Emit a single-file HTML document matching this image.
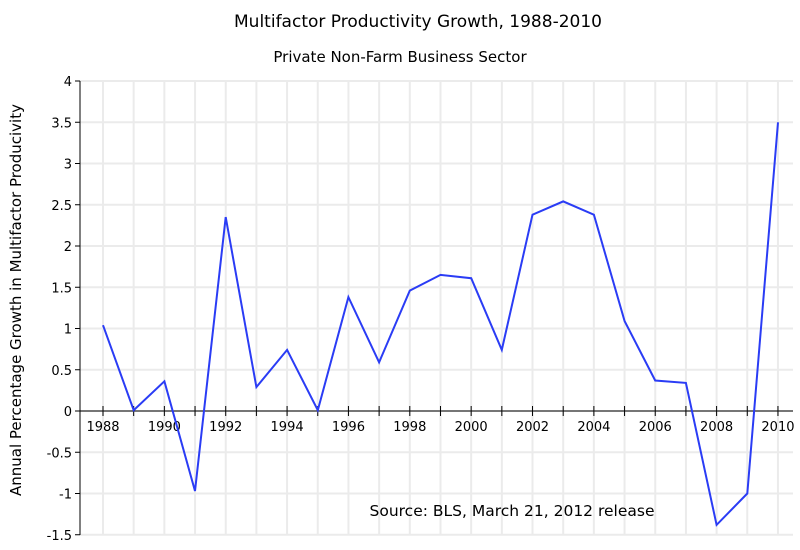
<!DOCTYPE html>
<html><head><meta charset="utf-8"><style>
body{margin:0;background:#fff;}
svg{display:block;font-family:"DejaVu Sans","Liberation Sans",sans-serif;}
</style></head><body>
<svg id="c" width="800" height="550" xmlns="http://www.w3.org/2000/svg">
<text x="418" y="27" text-anchor="middle" font-size="17">Multifactor Productivity Growth, 1988-2010</text>
<text x="400" y="62" text-anchor="middle" font-size="15">Private Non-Farm Business Sector</text>
<text transform="translate(21,300) rotate(-90)" text-anchor="middle" font-size="15">Annual Percentage Growth in Multifactor Producivity</text>
<g id="g"></g>
<text x="512" y="516" text-anchor="middle" font-size="15.5">Source:  BLS, March 21, 2012 release</text>
</svg>
<script>
var g=document.getElementById('g'),s='';
function Y(v){return 411-v*82.5;}
function X(y){return 103+(y-1988)*30.68;}
var L=80,R=793,T=81,B=535;
for(var k=0;k<=11;k++){var v=4-k*0.5;var y=Y(v);
 s+='<line x1="'+L+'" x2="'+R+'" y1="'+y+'" y2="'+y+'" stroke="#ebebeb" stroke-width="2"/>';
 s+='<line x1="'+(L-5)+'" x2="'+L+'" y1="'+y+'" y2="'+y+'" stroke="#000"/>';
 s+='<text x="'+(L-8)+'" y="'+(y+5)+'" text-anchor="end" font-size="13">'+v+'</text>';}
for(var yr=1988;yr<=2010;yr++){var x=X(yr);
 s+='<line x1="'+x+'" x2="'+x+'" y1="'+T+'" y2="'+B+'" stroke="#ebebeb" stroke-width="2"/>';
 s+='<line x1="'+x+'" x2="'+x+'" y1="'+(411-5)+'" y2="'+(411+5)+'" stroke="#000"/>';
 if(yr%2==0)s+='<text x="'+x+'" y="431" text-anchor="middle" font-size="13">'+yr+'</text>';}
s+='<line x1="'+L+'" x2="'+L+'" y1="'+T+'" y2="'+B+'" stroke="#000"/>';
s+='<line x1="'+L+'" x2="'+R+'" y1="411" y2="411" stroke="#000"/>';
var d=[1.04,0.01,0.36,-0.97,2.35,0.29,0.74,0.01,1.38,0.59,1.46,1.65,1.61,0.74,2.38,2.54,2.38,1.09,0.37,0.34,-1.38,-1.0,3.5];
var p=d.map(function(v,i){return X(1988+i).toFixed(1)+','+Y(v).toFixed(1);}).join(' ');
s+='<polyline points="'+p+'" fill="none" stroke="#2a3cf5" stroke-width="2"/>';
g.innerHTML=s;
</script>
</body></html>
